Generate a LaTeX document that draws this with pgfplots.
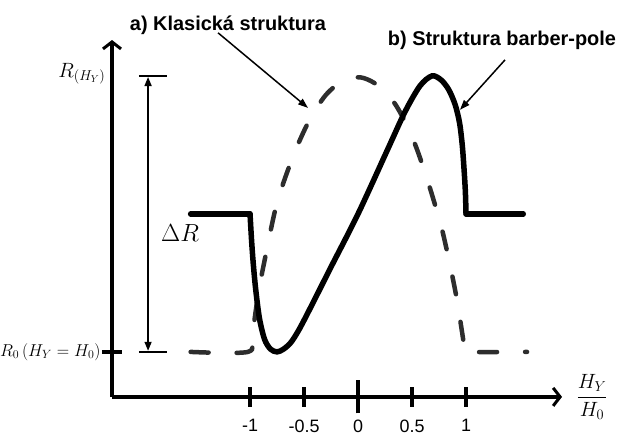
\documentclass[border=0pt]{standalone}
\usepackage{pgfplots}
\pgfplotsset{compat=1.18}
\usepackage{fontspec}
\setmainfont{Liberation Sans}
\usetikzlibrary{arrows.meta}

\definecolor{dashgray}{RGB}{45,45,45}

\pgfplotsset{
  every tick/.style={black, line width=3.5bp},
  every axis x line/.append style={line width=3.5bp},
  every axis y line/.append style={line width=3.5bp},
}

\begin{document}
\begin{tikzpicture}
\begin{axis}[
  x=108bp, y=276bp,
  xmin=-2.278, xmax=1.889, ymin=-0.163, ymax=1.130,
  axis lines=left,
  axis line style={line width=3.5bp, black, -{Straight Barb[length=7bp,width=18bp,line width=3bp]}},
  clip=false,
  tick align=center,
  xtick={-1,-0.5,0,0.5,1},
  xticklabels={-1,-0.5,0,0.5,1},
  extra x ticks={0},
  extra x tick labels={},
  extra x tick style={major tick length=33bp, major tick style={line width=3.5bp}},
  ytick={0},
  yticklabels={$R_0\left(H_Y = H_0\right)$},
  major tick length=20bp,
  major tick style={line width=3.5bp, black},
  xticklabel style={font=\fontsize{18}{18}\selectfont, inner sep=0.5bp, yshift=-12bp},
  yticklabel style={font=\fontsize{16.5}{16.5}\selectfont, xshift=2bp},
]

% classic structure (dashed)
\addplot[dashgray, line width=4.5bp, line cap=round, dash pattern=on 18bp off 28bp, smooth]
  coordinates {(-1.55,0) (-1.02,0) (-0.98,0.06) (-0.92,0.22) (-0.85,0.36) (-0.75,0.54)
    (-0.6,0.71) (-0.45,0.84) (-0.3,0.93) (-0.15,0.98) (0.0,0.995) (0.1,0.985) (0.2,0.96)
    (0.34,0.9) (0.46,0.815) (0.54,0.74) (0.62,0.65) (0.7,0.55) (0.78,0.44) (0.86,0.3)
    (0.92,0.18) (0.96,0.08) (0.99,0.01) (1.02,0) (1.565,0)};

% barber-pole structure (solid)
\addplot[black, line width=5.5bp, line cap=round, line join=round]
  coordinates {(-1.55,0.5) (-1.0,0.5)};
\addplot[black, line width=5.5bp, line cap=round, smooth]
  coordinates {(-1.0,0.5) (-0.985,0.40) (-0.97,0.32) (-0.947,0.225) (-0.912,0.12)
    (-0.865,0.045) (-0.81,0.01) (-0.75,0.0) (-0.69,0.01) (-0.62,0.035) (-0.54,0.085)
    (-0.417,0.178) (-0.26,0.30) (0,0.5) (0.27,0.73) (0.435,0.87) (0.574,0.964)
    (0.685,1.0) (0.77,0.985) (0.84,0.95) (0.9,0.895) (0.94,0.83) (0.965,0.75)
    (0.982,0.66) (0.994,0.58) (1.0,0.5)};
\addplot[black, line width=5.5bp, line cap=round]
  coordinates {(1.0,0.5) (1.53,0.5)};

% Delta R bracket
\draw[line width=1.5bp, {Triangle[length=9bp,width=7bp]}-{Triangle[length=9bp,width=7bp]}]
  (axis cs:-1.944,0.004) -- (axis cs:-1.944,0.996);
\draw[line width=2.5bp] (axis cs:-2.028,1.0) -- (axis cs:-1.769,1.0);
\draw[line width=2.5bp] (axis cs:-2.028,0) -- (axis cs:-1.769,0);
\node[font=\fontsize{26}{26}\selectfont] at (axis cs:-1.648,0.431) {$\Delta R$};

% axis names
\node[anchor=base west, font=\fontsize{20}{20}\selectfont] at (axis cs:-2.806,0.996) {$R_{(H_Y)}$};
\node[font=\fontsize{20}{20}\selectfont] at (axis cs:2.167,-0.163) {$\displaystyle\frac{H_Y}{H_0}$};

% callouts
\node[font=\fontsize{20}{20}\selectfont\bfseries] at (axis cs:-1.204,1.185) {a) Klasická struktura};
\node[font=\fontsize{20}{20}\selectfont\bfseries] at (axis cs:1.333,1.127) {b) Struktura barber-pole};
\draw[line width=1.5bp, -{Triangle[length=10bp,width=7bp]}] (axis cs:-1.296,1.156) -- (axis cs:-0.463,0.884);
\draw[line width=1.5bp, -{Triangle[length=10bp,width=7bp]}] (axis cs:1.361,1.058) -- (axis cs:0.944,0.877);

\coordinate (bl) at (axis cs:-3.315,-0.308);
\coordinate (tr) at (axis cs:2.472,1.275);
\end{axis}
\pgfresetboundingbox
\useasboundingbox (bl) rectangle (tr);
\end{tikzpicture}
\end{document}
